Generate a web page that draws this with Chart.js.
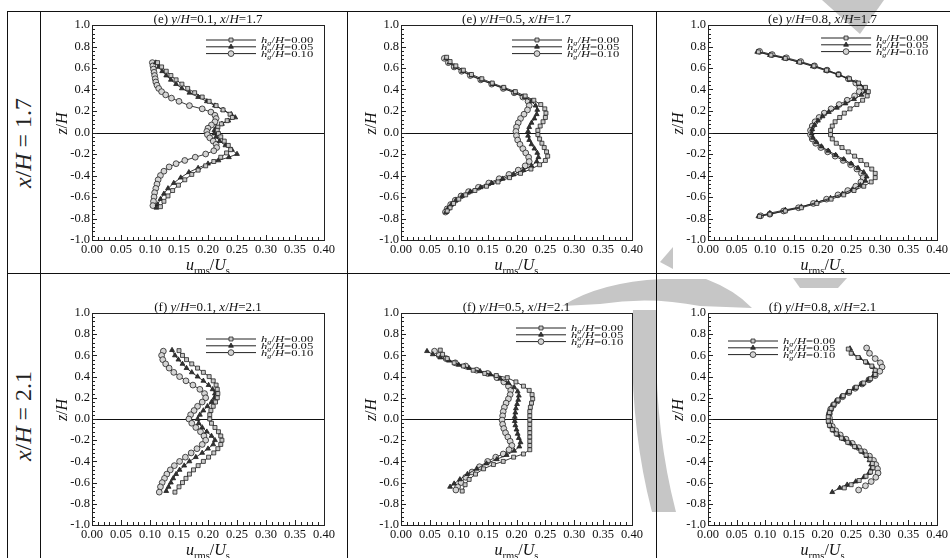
<!DOCTYPE html>
<html>
<head>
<meta charset="utf-8">
<script src="https://cdn.jsdelivr.net/npm/chart.js@4.4.0/dist/chart.umd.min.js"></script>
<style>
  body { margin: 0; background: #fff; }
  #page { position: relative; width: 950px; height: 558px; overflow: hidden; background: #fff; }
  #page canvas { position: absolute; }
  .rule { position: absolute; background: #111; }
  .rowlab { position: absolute; transform: translate(-50%, -50%) rotate(-90deg); font: 24px 'Liberation Serif', serif; color: #222; white-space: nowrap; }
  #wm { position: absolute; left: 0; top: 0; pointer-events: none; }
</style>
</head>
<body>
<div id="page"></div>
<script>
// ---- valeurs ----
const hgLabels = ['0.00', '0.05', '0.10'];
const yPositions = ['0.1', '0.5', '0.8'];
const rowLabels = ['1.7', '2.1'];
const rowLetters = ['e', 'f'];
const xTicks = [0, 0.05, 0.10, 0.15, 0.20, 0.25, 0.30, 0.35, 0.40];
const zTicks = [-1.0, -0.8, -0.6, -0.4, -0.2, 0.0, 0.2, 0.4, 0.6, 0.8, 1.0];

// (e) x/H=1.7, y/H=0.1  -- [u_rms/U_s, z/H]
const e1_h00 = [[0.113,0.65],[0.12,0.61],[0.128,0.57],[0.136,0.53],[0.145,0.49],[0.155,0.45],[0.165,0.41],[0.177,0.37],[0.19,0.33],[0.202,0.29],[0.214,0.25],[0.226,0.21],[0.238,0.17],[0.242,0.14],[0.233,0.11],[0.223,0.08],[0.217,0.05],[0.216,0.02],[0.218,-0.01],[0.222,-0.04],[0.228,-0.08],[0.235,-0.12],[0.239,-0.16],[0.232,-0.19],[0.222,-0.23],[0.21,-0.27],[0.196,-0.31],[0.183,-0.35],[0.172,-0.39],[0.16,-0.44],[0.149,-0.49],[0.139,-0.54],[0.131,-0.59],[0.124,-0.64],[0.118,-0.69]];
const e1_h05 = [[0.11,0.65],[0.115,0.61],[0.121,0.57],[0.128,0.53],[0.136,0.49],[0.145,0.45],[0.155,0.41],[0.168,0.37],[0.183,0.33],[0.198,0.29],[0.212,0.25],[0.226,0.21],[0.24,0.17],[0.247,0.14],[0.235,0.11],[0.224,0.08],[0.215,0.05],[0.211,0.02],[0.211,-0.01],[0.214,-0.04],[0.22,-0.08],[0.23,-0.12],[0.241,-0.16],[0.25,-0.2],[0.236,-0.23],[0.218,-0.26],[0.2,-0.29],[0.183,-0.33],[0.167,-0.37],[0.153,-0.42],[0.141,-0.47],[0.131,-0.52],[0.124,-0.57],[0.118,-0.62],[0.113,-0.67],[0.111,-0.7]];
const e1_h10 = [[0.104,0.65],[0.105,0.62],[0.106,0.59],[0.107,0.56],[0.108,0.53],[0.109,0.5],[0.11,0.47],[0.112,0.44],[0.115,0.41],[0.12,0.38],[0.127,0.35],[0.137,0.32],[0.15,0.29],[0.168,0.25],[0.19,0.22],[0.205,0.19],[0.212,0.16],[0.214,0.13],[0.212,0.1],[0.206,0.07],[0.2,0.04],[0.198,0.01],[0.199,-0.02],[0.203,-0.05],[0.209,-0.08],[0.214,-0.11],[0.215,-0.14],[0.21,-0.17],[0.196,-0.2],[0.178,-0.23],[0.16,-0.26],[0.145,-0.29],[0.133,-0.32],[0.124,-0.36],[0.118,-0.4],[0.114,-0.44],[0.112,-0.48],[0.11,-0.52],[0.108,-0.56],[0.107,-0.6],[0.106,-0.64],[0.105,-0.68]];

// (e) x/H=1.7, y/H=0.5
const e5_h00 = [[0.079,0.70],[0.085,0.66],[0.095,0.62],[0.108,0.58],[0.122,0.54],[0.14,0.5],[0.158,0.46],[0.178,0.42],[0.198,0.38],[0.215,0.34],[0.23,0.3],[0.242,0.26],[0.249,0.22],[0.251,0.18],[0.25,0.14],[0.246,0.1],[0.241,0.06],[0.237,0.02],[0.237,-0.02],[0.24,-0.06],[0.244,-0.1],[0.248,-0.14],[0.252,-0.18],[0.254,-0.22],[0.25,-0.26],[0.24,-0.3],[0.225,-0.34],[0.207,-0.38],[0.188,-0.42],[0.168,-0.46],[0.148,-0.5],[0.128,-0.54],[0.112,-0.58],[0.1,-0.62],[0.091,-0.66],[0.085,-0.7],[0.08,-0.73]];
const e5_h05 = [[0.078,0.69],[0.084,0.65],[0.094,0.61],[0.107,0.57],[0.122,0.53],[0.14,0.49],[0.159,0.45],[0.179,0.41],[0.198,0.37],[0.214,0.33],[0.226,0.29],[0.233,0.25],[0.236,0.21],[0.235,0.17],[0.231,0.13],[0.226,0.09],[0.222,0.05],[0.22,0.01],[0.22,-0.03],[0.222,-0.07],[0.226,-0.11],[0.231,-0.15],[0.236,-0.19],[0.238,-0.23],[0.235,-0.27],[0.226,-0.31],[0.212,-0.35],[0.195,-0.39],[0.176,-0.43],[0.157,-0.47],[0.138,-0.51],[0.12,-0.55],[0.106,-0.59],[0.095,-0.63],[0.087,-0.67],[0.081,-0.71],[0.078,-0.74]];
const e5_h10 = [[0.075,0.69],[0.082,0.65],[0.092,0.61],[0.105,0.57],[0.12,0.53],[0.138,0.49],[0.157,0.45],[0.177,0.41],[0.196,0.37],[0.211,0.33],[0.22,0.29],[0.222,0.25],[0.219,0.21],[0.213,0.17],[0.207,0.13],[0.203,0.09],[0.2,0.05],[0.199,0.01],[0.2,-0.03],[0.202,-0.07],[0.206,-0.11],[0.211,-0.15],[0.216,-0.19],[0.221,-0.23],[0.222,-0.27],[0.215,-0.31],[0.203,-0.35],[0.187,-0.39],[0.17,-0.43],[0.152,-0.47],[0.134,-0.51],[0.117,-0.55],[0.104,-0.59],[0.094,-0.63],[0.086,-0.67],[0.08,-0.71],[0.077,-0.74]];

// (e) x/H=1.7, y/H=0.8
const e8_h00 = [[0.088,0.75],[0.11,0.72],[0.135,0.69],[0.16,0.655],[0.185,0.62],[0.207,0.58],[0.228,0.54],[0.247,0.5],[0.263,0.46],[0.275,0.42],[0.28,0.38],[0.278,0.34],[0.27,0.3],[0.26,0.26],[0.248,0.22],[0.238,0.18],[0.23,0.14],[0.222,0.1],[0.217,0.06],[0.214,0.02],[0.214,-0.02],[0.217,-0.06],[0.224,-0.1],[0.234,-0.14],[0.245,-0.18],[0.256,-0.22],[0.267,-0.26],[0.277,-0.3],[0.286,-0.34],[0.292,-0.38],[0.292,-0.42],[0.285,-0.46],[0.272,-0.5],[0.255,-0.54],[0.237,-0.58],[0.215,-0.62],[0.19,-0.66],[0.163,-0.7],[0.135,-0.73],[0.108,-0.76],[0.09,-0.78]];
const e8_h05 = [[0.086,0.75],[0.108,0.72],[0.133,0.69],[0.158,0.655],[0.183,0.615],[0.206,0.575],[0.228,0.535],[0.248,0.49],[0.264,0.45],[0.274,0.41],[0.275,0.38],[0.268,0.35],[0.255,0.31],[0.24,0.27],[0.225,0.23],[0.211,0.19],[0.2,0.15],[0.192,0.11],[0.186,0.07],[0.182,0.03],[0.181,-0.01],[0.183,-0.05],[0.189,-0.09],[0.198,-0.13],[0.21,-0.17],[0.223,-0.21],[0.237,-0.25],[0.25,-0.29],[0.262,-0.33],[0.272,-0.37],[0.277,-0.41],[0.275,-0.45],[0.266,-0.49],[0.252,-0.53],[0.235,-0.57],[0.214,-0.61],[0.19,-0.65],[0.163,-0.69],[0.135,-0.72],[0.108,-0.75],[0.088,-0.78]];
const e8_h10 = [[0.09,0.755],[0.112,0.725],[0.137,0.695],[0.162,0.66],[0.186,0.62],[0.208,0.58],[0.228,0.54],[0.245,0.5],[0.258,0.46],[0.265,0.42],[0.264,0.38],[0.256,0.34],[0.243,0.3],[0.229,0.26],[0.215,0.22],[0.203,0.18],[0.194,0.14],[0.187,0.1],[0.182,0.06],[0.179,0.02],[0.179,-0.02],[0.182,-0.06],[0.188,-0.1],[0.197,-0.14],[0.209,-0.18],[0.222,-0.22],[0.236,-0.26],[0.249,-0.3],[0.26,-0.34],[0.268,-0.38],[0.271,-0.42],[0.267,-0.46],[0.258,-0.5],[0.244,-0.54],[0.227,-0.58],[0.207,-0.62],[0.184,-0.66],[0.158,-0.7],[0.132,-0.73],[0.108,-0.76],[0.092,-0.775]];

// (f) x/H=2.1, y/H=0.1
const f1_h00 = [[0.15,0.645],[0.156,0.6],[0.163,0.56],[0.172,0.52],[0.182,0.48],[0.192,0.44],[0.202,0.4],[0.209,0.36],[0.214,0.32],[0.216,0.28],[0.217,0.24],[0.216,0.2],[0.213,0.16],[0.209,0.12],[0.205,0.08],[0.203,0.04],[0.203,0.0],[0.206,-0.04],[0.212,-0.08],[0.218,-0.12],[0.222,-0.16],[0.224,-0.2],[0.222,-0.24],[0.217,-0.28],[0.21,-0.32],[0.201,-0.36],[0.192,-0.4],[0.183,-0.44],[0.175,-0.48],[0.168,-0.52],[0.162,-0.56],[0.156,-0.6],[0.15,-0.64],[0.143,-0.69]];
const f1_h05 = [[0.138,0.65],[0.143,0.6],[0.149,0.56],[0.156,0.52],[0.163,0.48],[0.172,0.44],[0.182,0.4],[0.192,0.36],[0.201,0.32],[0.208,0.28],[0.212,0.24],[0.211,0.2],[0.206,0.16],[0.199,0.12],[0.192,0.08],[0.186,0.04],[0.182,0.0],[0.184,-0.04],[0.19,-0.08],[0.198,-0.12],[0.206,-0.16],[0.212,-0.2],[0.209,-0.24],[0.2,-0.28],[0.19,-0.32],[0.179,-0.36],[0.168,-0.4],[0.159,-0.44],[0.151,-0.48],[0.145,-0.52],[0.14,-0.56],[0.136,-0.6],[0.132,-0.64],[0.128,-0.68]];
const f1_h10 = [[0.123,0.64],[0.12,0.6],[0.122,0.56],[0.127,0.52],[0.133,0.48],[0.141,0.44],[0.151,0.4],[0.162,0.36],[0.174,0.32],[0.186,0.28],[0.194,0.24],[0.196,0.2],[0.19,0.16],[0.182,0.12],[0.176,0.08],[0.17,0.04],[0.167,0.0],[0.172,-0.04],[0.179,-0.08],[0.187,-0.12],[0.193,-0.16],[0.196,-0.2],[0.19,-0.24],[0.181,-0.28],[0.171,-0.32],[0.161,-0.36],[0.151,-0.4],[0.142,-0.44],[0.135,-0.48],[0.129,-0.52],[0.125,-0.56],[0.121,-0.6],[0.118,-0.64],[0.116,-0.69]];

// (f) x/H=2.1, y/H=0.5
const f5_h00 = [[0.068,0.65],[0.072,0.61],[0.08,0.57],[0.092,0.53],[0.108,0.5],[0.125,0.46],[0.145,0.43],[0.165,0.41],[0.184,0.39],[0.199,0.35],[0.212,0.31],[0.222,0.27],[0.227,0.23],[0.228,0.19],[0.226,0.15],[0.224,0.11],[0.223,0.07],[0.223,0.03],[0.223,-0.01],[0.223,-0.05],[0.223,-0.09],[0.223,-0.13],[0.223,-0.17],[0.223,-0.21],[0.223,-0.25],[0.223,-0.29],[0.212,-0.33],[0.195,-0.36],[0.177,-0.4],[0.16,-0.43],[0.143,-0.47],[0.129,-0.52],[0.118,-0.57],[0.111,-0.62],[0.106,-0.68]];
const f5_h05 = [[0.045,0.64],[0.055,0.61],[0.068,0.58],[0.083,0.55],[0.1,0.51],[0.118,0.48],[0.137,0.45],[0.155,0.42],[0.172,0.38],[0.186,0.34],[0.196,0.3],[0.202,0.26],[0.204,0.22],[0.203,0.18],[0.201,0.14],[0.199,0.1],[0.198,0.06],[0.197,0.02],[0.197,-0.02],[0.198,-0.06],[0.2,-0.1],[0.202,-0.14],[0.204,-0.18],[0.207,-0.22],[0.205,-0.26],[0.196,-0.3],[0.183,-0.34],[0.166,-0.38],[0.148,-0.42],[0.131,-0.47],[0.115,-0.52],[0.102,-0.57],[0.092,-0.61],[0.085,-0.64]];
const f5_h10 = [[0.058,0.64],[0.066,0.6],[0.078,0.57],[0.094,0.53],[0.112,0.5],[0.131,0.46],[0.15,0.43],[0.166,0.39],[0.178,0.35],[0.186,0.31],[0.19,0.27],[0.189,0.23],[0.186,0.19],[0.182,0.15],[0.179,0.11],[0.177,0.07],[0.176,0.03],[0.175,-0.01],[0.176,-0.05],[0.178,-0.09],[0.181,-0.13],[0.185,-0.17],[0.189,-0.21],[0.192,-0.25],[0.187,-0.29],[0.177,-0.33],[0.164,-0.36],[0.15,-0.4],[0.136,-0.45],[0.123,-0.5],[0.112,-0.55],[0.104,-0.6],[0.098,-0.64],[0.095,-0.67]];

// (f) x/H=2.1, y/H=0.8
const f8_h00 = [[0.245,0.66],[0.25,0.62],[0.262,0.58],[0.275,0.54],[0.286,0.5],[0.292,0.46],[0.292,0.42],[0.284,0.38],[0.272,0.34],[0.259,0.3],[0.247,0.26],[0.236,0.22],[0.227,0.18],[0.22,0.14],[0.215,0.1],[0.212,0.06],[0.21,0.02],[0.21,-0.02],[0.212,-0.06],[0.217,-0.1],[0.224,-0.14],[0.233,-0.18],[0.244,-0.22],[0.256,-0.26],[0.267,-0.3],[0.276,-0.34],[0.283,-0.38],[0.287,-0.42],[0.288,-0.46],[0.284,-0.5],[0.276,-0.54],[0.264,-0.58],[0.25,-0.62],[0.238,-0.65]];
const f8_h05 = [[0.248,0.665],[0.252,0.62],[0.265,0.575],[0.278,0.53],[0.288,0.49],[0.291,0.45],[0.289,0.41],[0.28,0.37],[0.268,0.33],[0.256,0.29],[0.244,0.25],[0.233,0.21],[0.224,0.17],[0.218,0.13],[0.214,0.09],[0.211,0.05],[0.21,0.01],[0.211,-0.03],[0.214,-0.07],[0.219,-0.11],[0.227,-0.15],[0.237,-0.19],[0.248,-0.23],[0.259,-0.27],[0.269,-0.31],[0.277,-0.35],[0.282,-0.39],[0.285,-0.43],[0.285,-0.47],[0.281,-0.51],[0.272,-0.55],[0.258,-0.59],[0.243,-0.62],[0.23,-0.65],[0.217,-0.69]];
const f8_h10 = [[0.277,0.67],[0.282,0.62],[0.292,0.57],[0.301,0.53],[0.304,0.49],[0.3,0.45],[0.292,0.41],[0.281,0.37],[0.269,0.33],[0.257,0.29],[0.246,0.25],[0.235,0.21],[0.226,0.17],[0.219,0.13],[0.214,0.09],[0.212,0.05],[0.212,0.01],[0.213,-0.03],[0.217,-0.07],[0.223,-0.11],[0.231,-0.15],[0.241,-0.19],[0.252,-0.23],[0.263,-0.27],[0.273,-0.31],[0.282,-0.35],[0.289,-0.39],[0.293,-0.43],[0.296,-0.47],[0.297,-0.51],[0.293,-0.55],[0.285,-0.59],[0.275,-0.63],[0.263,-0.67]];

const panelSeries = [
  [e1_h00, e1_h05, e1_h10], [e5_h00, e5_h05, e5_h10], [e8_h00, e8_h05, e8_h10],
  [f1_h00, f1_h05, f1_h10], [f5_h00, f5_h05, f5_h10], [f8_h00, f8_h05, f8_h10]
];

// ---- mise en page (pixels) ----
const cols = [
  { x0: 40, x1: 347, L: 92, R: 324 },
  { x0: 347, x1: 656, L: 401, R: 632 },
  { x0: 656, x1: 950, L: 708, R: 939 }
];
const rows = [
  { y0: 12, y1: 274, T: 25, B: 240 },
  { y0: 274, y1: 558, T: 313, B: 525 }
];
// position de la légende : dx depuis le bord (droit ou gauche), dy depuis le haut
const legendPos = [
  { side: 'R', dx: -118, dy: 15 }, { side: 'R', dx: -120, dy: 15 }, { side: 'R', dx: -116, dy: 13 },
  { side: 'R', dx: -118, dy: 26 }, { side: 'R', dx: -116, dy: 15 }, { side: 'L', dx: 20, dy: 28 }
];

const FAM = "'Liberation Serif', 'DejaVu Serif', serif";
const markers = [
  { style: 'rect', r: 2.8, fill: '#c8c8c8' },
  { style: 'triangle', r: 2.8, fill: '#333' },
  { style: 'circle', r: 2.9, fill: '#d4d4d4' }
];

// texte avec italique / indices : parts = [texte, style] ; style i, n, si, sn
function drawRich(ctx, parts, x, y, size, align) {
  const fontFor = st => (st.indexOf('i') >= 0 ? 'italic ' : '') + (st[0] === 's' ? size * 0.66 : size) + 'px ' + FAM;
  let w = 0;
  parts.forEach(([t, st]) => { ctx.font = fontFor(st); w += ctx.measureText(t).width; });
  let cx = align === 'center' ? x - w / 2 : (align === 'right' ? x - w : x);
  ctx.textAlign = 'left';
  ctx.textBaseline = 'alphabetic';
  parts.forEach(([t, st]) => {
    ctx.font = fontFor(st);
    ctx.fillText(t, cx, st[0] === 's' ? y + size * 0.24 : y);
    cx += ctx.measureText(t).width;
  });
}

const decoPlugin = {
  id: 'deco',
  beforeDatasetsDraw(chart, args, o) {
    const { ctx, chartArea: a, scales: { y } } = chart;
    const py = Math.round(y.getPixelForValue(0)) + 0.5;
    ctx.save();
    ctx.strokeStyle = '#111';
    ctx.lineWidth = 1;
    ctx.beginPath(); ctx.moveTo(a.left, py); ctx.lineTo(a.right, py); ctx.stroke();
    ctx.restore();
  },
  afterDraw(chart, args, o) {
    const { ctx, chartArea: a, scales: { x, y } } = chart;
    ctx.save();
    // cadre
    ctx.strokeStyle = '#222';
    ctx.lineWidth = 1;
    ctx.strokeRect(Math.round(a.left) + 0.5, Math.round(a.top) + 0.5, Math.round(a.right - a.left), Math.round(a.bottom - a.top));
    // graduations intérieures
    ctx.beginPath();
    for (let i = 0; i <= 50; i++) {
      const v = -1 + i * 0.04;
      const py = Math.round(y.getPixelForValue(v)) + 0.5;
      const len = (i % 5 === 0) ? 5 : 3;
      ctx.moveTo(a.left, py); ctx.lineTo(a.left + len, py);
    }
    for (let i = 0; i <= 40; i++) {
      const px = Math.round(x.getPixelForValue(i * 0.01)) + 0.5;
      const len = (i % 5 === 0) ? 5 : 3;
      ctx.moveTo(px, a.bottom); ctx.lineTo(px, a.bottom - len);
    }
    ctx.stroke();

    ctx.fillStyle = '#111';
    const cx = (a.left + a.right) / 2;
    // titre du panneau
    drawRich(ctx, [['(' + o.letter + ') ', 'n'], ['y', 'i'], ['/', 'n'], ['H', 'i'], ['=' + o.yPos + ', ', 'n'],
      ['x', 'i'], ['/', 'n'], ['H', 'i'], ['=' + o.xPos, 'n']], cx, a.top - 2, 13, 'center');
    // titres des axes
    drawRich(ctx, [['u', 'i'], ['rms', 'sn'], ['/', 'n'], ['U', 'i'], ['s', 'sn']], cx, a.bottom + 30, 16, 'center');
    ctx.save();
    ctx.translate(a.left - 30, (a.top + a.bottom) / 2 - 9);
    ctx.rotate(-Math.PI / 2);
    drawRich(ctx, [['z', 'i'], ['/', 'n'], ['H', 'i']], 0, 5, 16, 'center');
    ctx.restore();

    // légende
    const lp = o.legend;
    const lx = lp.side === 'R' ? a.right + lp.dx : a.left + lp.dx;
    chart.data.datasets.forEach((ds, i) => {
      const ly = a.top + lp.dy + i * 6.8;
      ctx.strokeStyle = '#222';
      ctx.lineWidth = 1;
      ctx.beginPath(); ctx.moveTo(lx, ly); ctx.lineTo(lx + 50, ly); ctx.stroke();
      ctx.fillStyle = ds.pointBackgroundColor;
      ctx.strokeStyle = '#222';
      ctx.lineWidth = ds.pointBorderWidth;
      Chart.helpers.drawPoint(ctx, { pointStyle: ds.pointStyle, radius: ds.pointRadius, borderWidth: ds.pointBorderWidth, rotation: 0 }, lx + 25, ly);
      ctx.fillStyle = '#111';
      ctx.save();
      ctx.translate(lx + 55, ly + 3);
      ctx.scale(1.4, 1);
      drawRich(ctx, [['h', 'i'], ['g', 'si'], ['/', 'n'], ['H', 'i'], ['=' + hgLabels[i], 'n']], 0, 0, 9, 'left');
      ctx.restore();
    });
    ctx.restore();
  }
};

const page = document.getElementById('page');

// filigrane gris (sous les graphiques)
const svgNS = 'http://www.w3.org/2000/svg';
const svg = document.createElementNS(svgNS, 'svg');
svg.setAttribute('id', 'wm');
svg.setAttribute('width', 950);
svg.setAttribute('height', 558);
[
  'M822,0 L884,0 L860,34 Z',
  'M673,247 L673,269 L660,262 Z',
  'M562,306 Q600,282 662,279 L706,279 Q735,290 752,308 L700,306 Q650,296 600,304 Z',
  'M633,310 L657,310 Q652,420 676,512 L652,512 Q628,420 633,310 Z',
  'M793,278 L847,278 L838,288 L800,288 Z'
].forEach(dp => {
  const pth = document.createElementNS(svgNS, 'path');
  pth.setAttribute('d', dp);
  pth.setAttribute('fill', '#c6c6c6');
  svg.appendChild(pth);
});
page.appendChild(svg);

// cadre du tableau
function rule(l, t, w, h) {
  const d = document.createElement('div');
  d.className = 'rule';
  Object.assign(d.style, { left: l + 'px', top: t + 'px', width: w + 'px', height: h + 'px' });
  page.appendChild(d);
}
rule(7, 11, 943, 1.4);
rule(7, 273, 943, 1.4);
rule(6.5, 11, 1.4, 547);
rule(39.5, 11, 1.4, 547);
rule(346.5, 11, 1.4, 547);
rule(655.5, 11, 1.4, 547);

rows.forEach((r, ri) => {
  const d = document.createElement('div');
  d.className = 'rowlab';
  d.style.left = '23px';
  d.style.top = ((r.y0 + r.y1) / 2) + 'px';
  d.innerHTML = '<i>x</i>/<i>H</i> = ' + rowLabels[ri];
  page.appendChild(d);
});

panelSeries.forEach((series, p) => {
  const ri = Math.floor(p / 3), ci = p % 3;
  const r = rows[ri], c = cols[ci];
  const left = c.x0 + 1, top = r.y0 + 1;
  const w = c.x1 - c.x0 - 1, h = r.y1 - r.y0 - 1;
  const cv = document.createElement('canvas');
  cv.width = w; cv.height = h;
  cv.style.left = left + 'px'; cv.style.top = top + 'px';
  page.appendChild(cv);

  new Chart(cv.getContext('2d'), {
    type: 'scatter',
    data: {
      datasets: series.map((pts, i) => ({
        label: 'hg/H=' + hgLabels[i],
        data: pts.map(([u, z]) => ({ x: u, y: z })),
        showLine: true,
        borderColor: '#222',
        borderWidth: 0.9,
        pointStyle: markers[i].style,
        pointRadius: markers[i].r,
        pointBackgroundColor: markers[i].fill,
        pointBorderColor: '#222',
        pointBorderWidth: 0.8,
        tension: 0
      }))
    },
    options: {
      responsive: false,
      animation: false,
      devicePixelRatio: 1,
      layout: { padding: { left: 0, top: r.T - top, right: (left + w) - c.R, bottom: 0 } },
      plugins: {
        legend: { display: false },
        tooltip: { enabled: false },
        deco: { letter: rowLetters[ri], yPos: yPositions[ci], xPos: rowLabels[ri], legend: legendPos[p] }
      },
      scales: {
        x: {
          type: 'linear', min: 0, max: 0.4,
          afterBuildTicks: s => { s.ticks = xTicks.map(v => ({ value: v })); },
          afterFit: s => { s.height = (top + h) - r.B; },
          grid: { display: false, drawTicks: false },
          border: { display: false },
          ticks: {
            callback: v => v.toFixed(2), autoSkip: false, maxRotation: 0, padding: 2,
            color: '#111', font: { family: FAM, size: 12.5 }
          }
        },
        y: {
          type: 'linear', min: -1, max: 1,
          afterBuildTicks: s => { s.ticks = zTicks.map(v => ({ value: v })); },
          afterFit: s => { s.width = c.L - left; },
          grid: { display: false, drawTicks: false },
          border: { display: false },
          ticks: {
            callback: v => (Math.abs(v) < 1e-9 ? '0.0' : v.toFixed(1)), autoSkip: false, padding: 2,
            color: '#111', font: { family: FAM, size: 12.5 }
          }
        }
      }
    },
    plugins: [decoPlugin]
  });
});
</script>
</body>
</html>
